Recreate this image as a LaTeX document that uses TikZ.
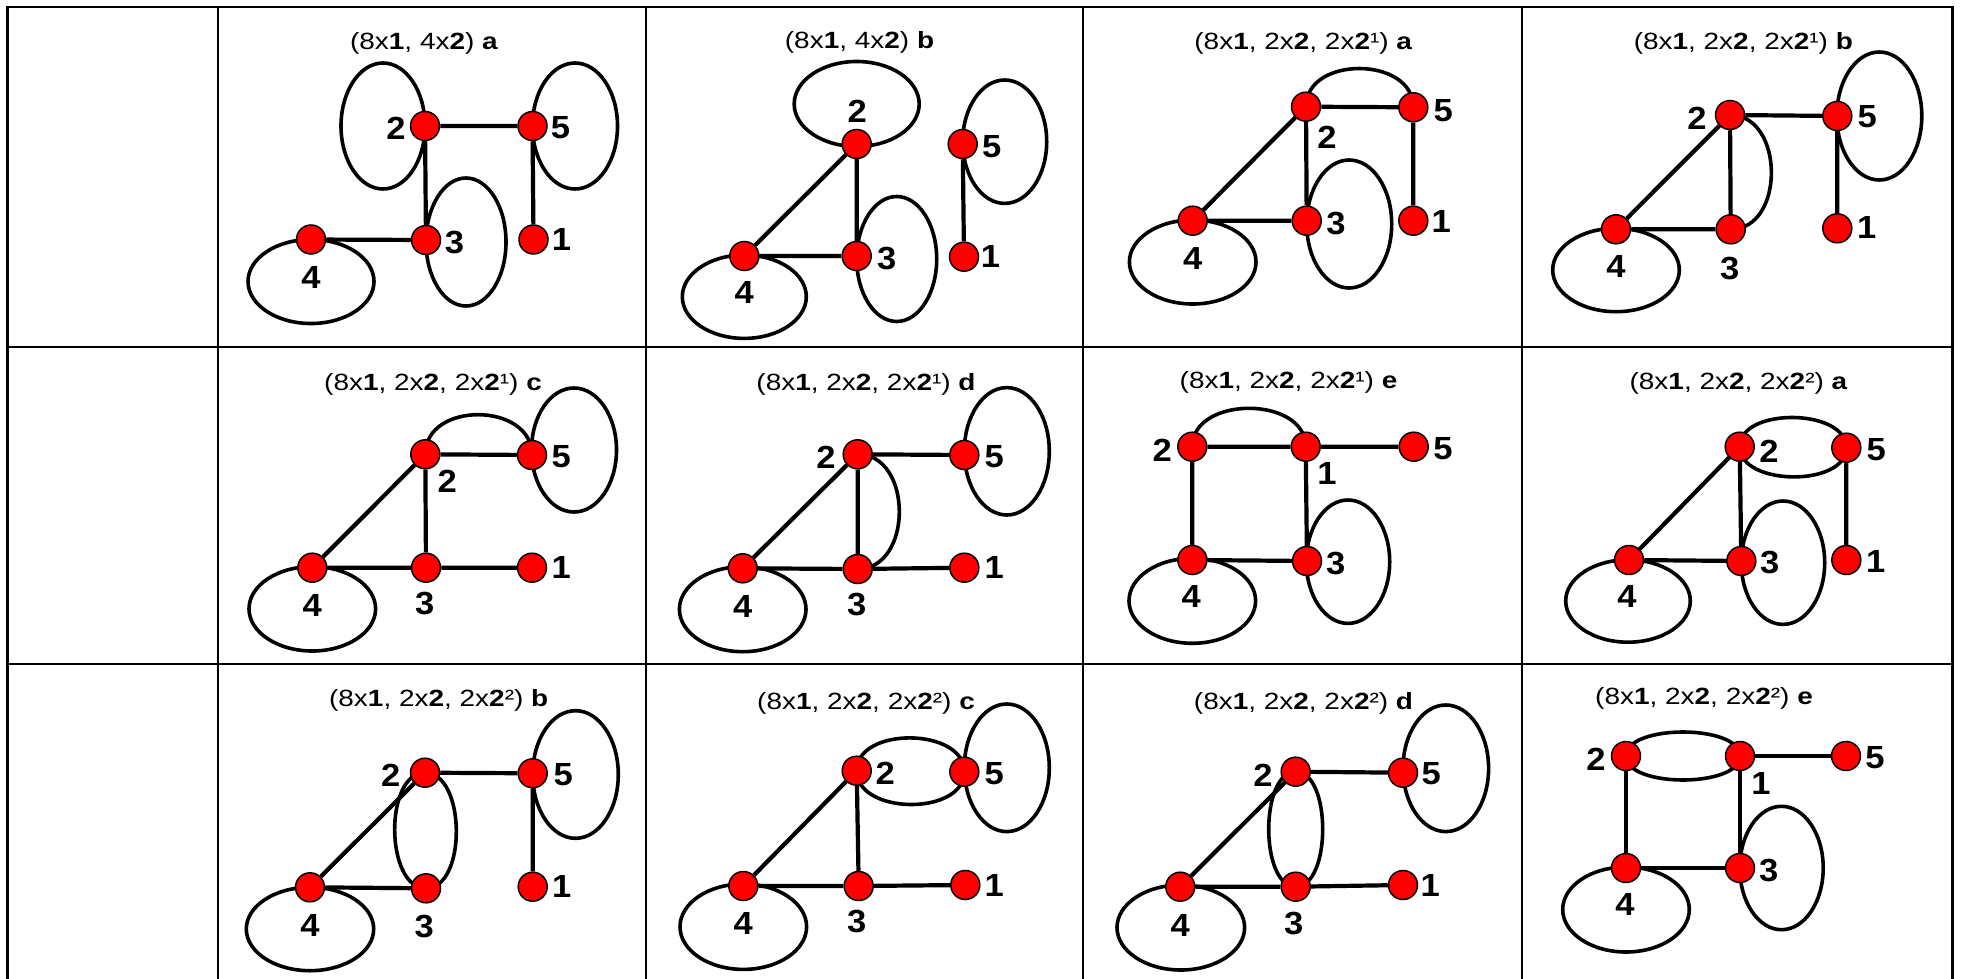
\documentclass[tikz,border=0pt]{standalone}
\usepackage{fontspec}
\setmainfont{Liberation Sans}
\newfontfamily\ttlfnt[FakeStretch=1.19]{Liberation Sans}
\newfontfamily\lblfnt[FakeStretch=1.08]{Liberation Sans}
\pgfdeclarelayer{bg}
\pgfsetlayers{bg,main}
\definecolor{nred}{RGB}{255,0,0}
\tikzset{
 vert/.style={circle,fill=nred,draw=black,line width=1.5pt,minimum size=29pt,inner sep=0pt},
 lbl/.style={inner sep=0pt,font=\lblfnt\bfseries\fontsize{32}{32}\selectfont},
 ttl/.style={inner sep=0pt,font=\ttlfnt\fontsize{23.5}{23.5}\selectfont},
 con/.style={line width=4.2pt},
 loopline/.style={line width=3.6pt},
 gridline/.style={line width=2.2pt},
}
\newcommand\vtx[6]{\node[vert] (#1) at (#2,#3) {}; \node[lbl] (#1l) at ([shift={(#5,#6)}]#1.center) {#4};}
\newcommand\lp[5]{\draw[loopline] ([shift={(#2,#3)}]#1.center) ellipse[x radius=#4, y radius=#5];}
\begin{document}
\begin{tikzpicture}[x=1pt,y=-1pt]
\useasboundingbox (0,0) rectangle (1963,979);
\begin{pgfonlayer}{bg}
\fill[white] (0,0) rectangle (1963,979);
\end{pgfonlayer}
% grid
\draw[gridline] (7.5,6.7) -- (1952.5,6.7);
\draw[gridline] (7.5,347) -- (1952.5,347);
\draw[gridline] (7.5,664) -- (1952.5,664);
\foreach \gx in {7.5,218,646,1083,1522,1952.5} {\draw[gridline] (\gx,5.6) -- (\gx,985);}

% ---- A: R1C2
\vtx{A2}{425}{126}{2}{-29}{2}
\vtx{A5}{532.5}{126}{5}{28}{2}
\vtx{A3}{426}{240}{3}{28.5}{3}
\vtx{A4}{311}{239.5}{4}{0}{38}
\vtx{A1}{533.5}{239.5}{1}{28}{0}
\node[ttl] (At) at (424,43) {(8x\textbf{1}, 4x\textbf{2}) \textbf{a}};
\begin{pgfonlayer}{bg}
\draw[con] (A2)--(A5) (A2)--(A3) (A4)--(A3) (A5)--(A1);
\lp{A2}{-42}{0}{42}{63}
\lp{A5}{42.5}{0}{42.5}{63}
\lp{A3}{40}{2}{40}{64}
\lp{A4}{0}{42}{63}{42}
\end{pgfonlayer}

% ---- B: R1C3
\vtx{B2}{856.7}{144}{2}{0.5}{-32.5}
\vtx{B4}{744.3}{256}{4}{0}{36}
\vtx{B3}{856.7}{256}{3}{30}{2.3}
\vtx{B5}{962.7}{144}{5}{29}{2.7}
\vtx{B1}{964}{256.7}{1}{26.5}{0}
\node[ttl] (Bt) at (859.5,42) {(8x\textbf{1}, 4x\textbf{2}) \textbf{b}};
\begin{pgfonlayer}{bg}
\draw[con] (B2)--(B3) (B2)--(B4) (B4)--(B3) (B5)--(B1);
\lp{B2}{0}{-40}{62.5}{42.5}
\lp{B3}{40}{3}{40}{62.5}
\lp{B4}{0}{40.7}{62}{41.7}
\lp{B5}{42}{-2.3}{42}{61.7}
\end{pgfonlayer}

% ---- C: R1C4
\vtx{C2}{1306}{106.7}{2}{21}{30.5}
\vtx{C5}{1413.3}{107.3}{5}{30}{3}
\vtx{C3}{1306.7}{220.7}{3}{29.3}{2.6}
\vtx{C4}{1192.7}{220.7}{4}{0}{37.7}
\vtx{C1}{1413.3}{220.7}{1}{28}{1}
\node[ttl] (Ct) at (1303.3,43.3) {(8x\textbf{1}, 2x\textbf{2}, 2x\textbf{2}¹) \textbf{a}};
\begin{pgfonlayer}{bg}
\draw[con] (C2)--(C5) (C2)--(C3) (C2)--(C4) (C4)--(C3) (C5)--(C1);
\draw[loopline] (C2.center) .. controls +(0,-51.3) and +(0,-51.3) .. (C5.center);
\lp{C3}{42.5}{3.3}{42.5}{64}
\lp{C4}{0}{41.3}{63.3}{42}
\end{pgfonlayer}

% ---- D: R1C5
\vtx{D2}{1730}{115}{2}{-33}{3}
\vtx{D5}{1837.3}{116}{5}{30}{1}
\vtx{D3}{1730.7}{229.3}{3}{-1}{39}
\vtx{D4}{1616}{229.3}{4}{0}{37.4}
\vtx{D1}{1837.3}{228.3}{1}{29.4}{-0.6}
\node[ttl] (Dt) at (1743.3,43.3) {(8x\textbf{1}, 2x\textbf{2}, 2x\textbf{2}¹) \textbf{b}};
\begin{pgfonlayer}{bg}
\draw[con] (D2)--(D5) (D2)--(D3) (D2)--(D4) (D4)--(D3) (D5)--(D1);
\draw[loopline] (D2.center) .. controls +(54.7,0) and +(54.7,0) .. (D3.center);
\lp{D5}{42}{0}{42.5}{64}
\lp{D4}{0}{40.7}{63.3}{41.7}
\end{pgfonlayer}

% ---- E: R2C2
\vtx{E2}{425.3}{454.3}{2}{22}{27.4}
\vtx{E5}{532}{455}{5}{29.3}{1.7}
\vtx{E4}{312.3}{567.7}{4}{0}{37.3}
\vtx{E3}{426}{567.7}{3}{-1.3}{35.6}
\vtx{E1}{532}{567.7}{1}{29.3}{0}
\node[ttl] (Et) at (433,384.3) {(8x\textbf{1}, 2x\textbf{2}, 2x\textbf{2}¹) \textbf{c}};
\begin{pgfonlayer}{bg}
\draw[con] (E2)--(E5) (E2)--(E3) (E2)--(E4) (E4)--(E3) (E3)--(E1);
\draw[loopline] (E2.center) .. controls +(0,-53.3) and +(0,-53.3) .. (E5.center);
\lp{E5}{42}{-5}{42.5}{62}
\lp{E4}{0}{41.1}{63.3}{42.2}
\end{pgfonlayer}

% ---- F: R2C3
\vtx{F2}{857.7}{454.3}{2}{-31.7}{3.4}
\vtx{F5}{964.3}{455}{5}{30}{1.7}
\vtx{F4}{742.7}{568.3}{4}{0}{38.4}
\vtx{F3}{857.7}{569}{3}{-1}{35.3}
\vtx{F1}{964.3}{567.7}{1}{30}{0}
\node[ttl] (Ft) at (866,384.3) {(8x\textbf{1}, 2x\textbf{2}, 2x\textbf{2}¹) \textbf{d}};
\begin{pgfonlayer}{bg}
\draw[con] (F2)--(F5) (F2)--(F3) (F2)--(F4) (F4)--(F3) (F3)--(F1);
\draw[loopline] (F2.center) .. controls +(55.5,0) and +(55.5,0) .. (F3.center);
\lp{F5}{42.5}{-3.7}{42.5}{63.7}
\lp{F4}{0}{40.9}{63.3}{42.5}
\end{pgfonlayer}

% ---- G: R2C4
\vtx{G2}{1192.3}{446.7}{2}{-30}{3.3}
\vtx{G1}{1305.7}{446.7}{1}{21.3}{26.6}
\vtx{G5}{1413.7}{446.7}{5}{29.3}{2.3}
\vtx{G4}{1192.3}{560}{4}{-1}{36.7}
\vtx{G3}{1307}{561}{3}{28.7}{2.3}
\node[ttl] (Gt) at (1288.5,382.3) {(8x\textbf{1}, 2x\textbf{2}, 2x\textbf{2}¹) \textbf{e}};
\begin{pgfonlayer}{bg}
\draw[con] (G2)--(G1) (G1)--(G5) (G2)--(G4) (G1)--(G3) (G4)--(G3);
\draw[loopline] (G2.center) .. controls +(0,-51.2) and +(0,-51.2) .. (G1.center);
\lp{G3}{41}{0.7}{41.7}{61.7}
\lp{G4}{0}{40.8}{63.3}{42.5}
\end{pgfonlayer}

% ---- H: R2C5
\vtx{H2}{1739.7}{446.7}{2}{29.3}{4.3}
\vtx{H5}{1846.3}{447.7}{5}{30}{2.3}
\vtx{H4}{1629}{560}{4}{-2}{36.7}
\vtx{H3}{1741.3}{561}{3}{28.4}{1.3}
\vtx{H1}{1846.3}{560}{1}{29.4}{1}
\node[ttl] (Ht) at (1738.5,383.3) {(8x\textbf{1}, 2x\textbf{2}, 2x\textbf{2}²) \textbf{a}};
\begin{pgfonlayer}{bg}
\draw[con] (H2)--(H4) (H2)--(H3) (H4)--(H3) (H5)--(H1);
\draw[loopline] (H2.center) .. controls +(0,-39.6) and +(0,-39.6) .. (H5.center) .. controls +(0,39.6) and +(0,39.6) .. (H2.center);
\lp{H3}{41.7}{1.7}{41.7}{61.7}
\lp{H4}{-1}{41}{62.3}{41.2}
\end{pgfonlayer}

% ---- I: R3C2
\vtx{I2}{425}{772.7}{2}{-34.3}{2.3}
\vtx{I5}{532.7}{773.3}{5}{30.6}{1.7}
\vtx{I4}{310}{887.3}{4}{0}{37.7}
\vtx{I3}{426}{888.3}{3}{-1.7}{37.7}
\vtx{I1}{532.7}{886.7}{1}{29}{0}
\node[ttl] (It) at (438.7,700) {(8x\textbf{1}, 2x\textbf{2}, 2x\textbf{2}²) \textbf{b}};
\begin{pgfonlayer}{bg}
\draw[con] (I2)--(I5) (I2)--(I4) (I4)--(I3) (I5)--(I1);
\draw[loopline] (I2.center) .. controls +(41.1,0) and +(41.1,0) .. (I3.center) .. controls +(-41.1,0) and +(-41.1,0) .. (I2.center);
\lp{I5}{42.8}{1.2}{42.8}{63.8}
\lp{I4}{0}{41.7}{63.7}{41.7}
\end{pgfonlayer}

% ---- J: R3C3
\vtx{J2}{856.7}{770.7}{2}{28.6}{2.6}
\vtx{J5}{964.3}{771.7}{5}{30}{1.6}
\vtx{J4}{743.3}{886}{4}{0}{37.3}
\vtx{J3}{858.7}{886}{3}{-2}{35.7}
\vtx{J1}{965.3}{885}{1}{29}{0}
\node[ttl] (Jt) at (866,703.3) {(8x\textbf{1}, 2x\textbf{2}, 2x\textbf{2}²) \textbf{c}};
\begin{pgfonlayer}{bg}
\draw[con] (J2)--(J4) (J2)--(J3) (J4)--(J3) (J3)--(J1);
\draw[loopline] (J2.center) .. controls +(0,-44.4) and +(0,-44.4) .. (J5.center) .. controls +(0,44.4) and +(0,44.4) .. (J2.center);
\lp{J5}{42.5}{-3.9}{42.5}{63.8}
\lp{J4}{0}{40.7}{63.3}{42.7}
\end{pgfonlayer}

% ---- K: R3C4
\vtx{K2}{1295.7}{771.7}{2}{-32.7}{3.3}
\vtx{K5}{1403}{772.7}{5}{28.3}{0.6}
\vtx{K4}{1180.3}{886.7}{4}{0}{38.3}
\vtx{K3}{1295.7}{886.7}{3}{-2}{36.7}
\vtx{K1}{1403}{885}{1}{27.3}{0}
\node[ttl] (Kt) at (1303.5,703.3) {(8x\textbf{1}, 2x\textbf{2}, 2x\textbf{2}²) \textbf{d}};
\begin{pgfonlayer}{bg}
\draw[con] (K2)--(K5) (K2)--(K4) (K4)--(K3) (K3)--(K1);
\draw[loopline] (K2.center) .. controls +(36,0) and +(36,0) .. (K3.center) .. controls +(-36,0) and +(-36,0) .. (K2.center);
\lp{K5}{42.8}{-4.4}{42.8}{63.3}
\lp{K4}{0.5}{40.8}{63.8}{42.5}
\end{pgfonlayer}

% ---- L: R3C5
\vtx{L2}{1626}{756}{2}{-30}{3}
\vtx{L1}{1740}{756}{1}{21}{27}
\vtx{L5}{1846}{756}{5}{29}{2}
\vtx{L4}{1626}{868}{4}{-1}{36.7}
\vtx{L3}{1740}{868}{3}{28.7}{2.3}
\node[ttl] (Lt) at (1704,698) {(8x\textbf{1}, 2x\textbf{2}, 2x\textbf{2}²) \textbf{e}};
\begin{pgfonlayer}{bg}
\draw[con] (L1)--(L5) (L2)--(L4) (L1)--(L3) (L4)--(L3);
\draw[loopline] (L2.center) .. controls +(0,-32) and +(0,-32) .. (L1.center) .. controls +(0,32) and +(0,32) .. (L2.center);
\lp{L3}{41.5}{0}{41.7}{61.7}
\lp{L4}{0}{41.5}{63.3}{42.5}
\end{pgfonlayer}
\end{tikzpicture}
\end{document}
